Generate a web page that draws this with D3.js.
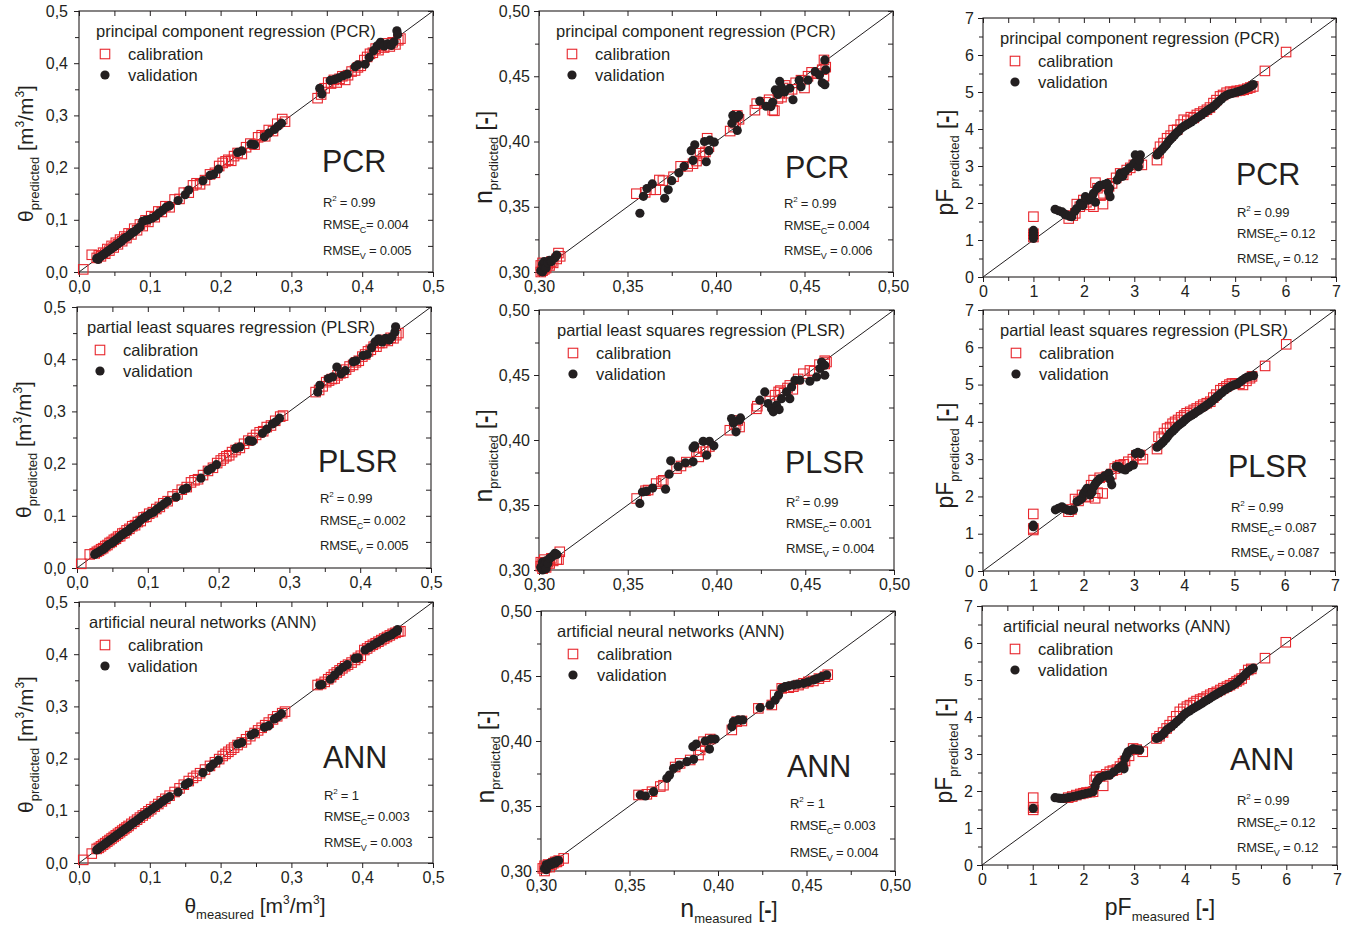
<!DOCTYPE html>
<html><head><meta charset="utf-8">
<script src="https://cdn.jsdelivr.net/npm/d3@7"></script>
<style>
body{margin:0;background:#fff;}
svg{display:block;font-family:"Liberation Sans",Arial,Helvetica,sans-serif;}
</style></head><body>
<svg id="chart" width="1354" height="931"></svg>
<script>
// ---------------- DATA ----------------
const models = ["PCR", "PLSR", "ANN"];
const modelTitles = ["principal component regression (PCR)", "partial least squares regression (PLSR)", "artificial neural networks (ANN)"];
const seriesNames = ["calibration", "validation"];

const thetaTicks = [0, 0.1, 0.2, 0.3, 0.4, 0.5];
const thetaTickLabels = ["0,0", "0,1", "0,2", "0,3", "0,4", "0,5"];
const thetaMinor = [0.05, 0.15, 0.25, 0.35, 0.45];
const nTicks = [0.30, 0.35, 0.40, 0.45, 0.50];
const nTickLabels = ["0,30", "0,35", "0,40", "0,45", "0,50"];
const nMinor = [0.325, 0.375, 0.425, 0.475];
const pFTicks = [0, 1, 2, 3, 4, 5, 6, 7];
const pFTickLabels = ["0", "1", "2", "3", "4", "5", "6", "7"];
const pFMinor = [0.5, 1.5, 2.5, 3.5, 4.5, 5.5, 6.5];

// stats: [R2, RMSE_C, RMSE_V] per model
const thetaStats = [["0.99", "0.004", "0.005"], ["0.99", "0.002", "0.005"], ["1", "0.003", "0.003"]];
const nStats = [["0.99", "0.004", "0.006"], ["0.99", "0.001", "0.004"], ["1", "0.003", "0.004"]];
const pFStats = [["0.99", "0.12", "0.12"], ["0.99", "0.087", "0.087"], ["0.99", "0.12", "0.12"]];

// theta: measured (shared) and predicted per model
const thetaCalX = [0.006,0.018,0.025,0.028,0.031,0.034,0.037,0.040,0.043,0.046,
  0.049,0.052,0.055,0.058,0.061,0.064,0.067,0.070,0.074,0.078,
  0.082,0.086,0.090,0.094,0.098,0.102,0.107,0.112,0.117,0.122,
  0.128,0.135,0.142,0.148,0.155,0.161,0.166,0.171,0.178,0.185,
  0.192,0.198,0.203,0.207,0.211,0.215,0.219,0.224,0.230,0.236,
  0.242,0.248,0.253,0.258,0.263,0.268,0.274,0.280,0.287,0.291,
  0.337,0.342,0.347,0.352,0.356,0.360,0.364,0.368,0.372,0.376,
  0.380,0.385,0.390,0.394,0.398,0.403,0.407,0.411,0.415,0.419,
  0.423,0.427,0.431,0.435,0.439,0.443,0.447,0.451,0.454];
const thetaCalPCR = [0.005,0.033,0.027,0.032,0.030,0.037,0.035,0.044,0.041,0.050,
  0.047,0.056,0.053,0.062,0.059,0.068,0.065,0.074,0.072,0.083,
  0.080,0.091,0.088,0.099,0.096,0.107,0.105,0.116,0.115,0.126,
  0.124,0.139,0.140,0.152,0.152,0.166,0.170,0.168,0.176,0.187,
  0.190,0.203,0.209,0.212,0.215,0.213,0.222,0.228,0.226,0.239,
  0.246,0.244,0.258,0.262,0.260,0.272,0.270,0.284,0.293,0.288,
  0.333,0.340,0.352,0.363,0.361,0.368,0.363,0.370,0.375,0.368,
  0.377,0.384,0.386,0.392,0.395,0.406,0.412,0.418,0.420,0.428,
  0.425,0.433,0.430,0.438,0.432,0.440,0.436,0.444,0.447];
const thetaCalPLSR = [0.008,0.026,0.028,0.031,0.033,0.036,0.038,0.042,0.044,0.048,
  0.050,0.054,0.056,0.060,0.061,0.066,0.067,0.072,0.075,0.080,
  0.082,0.088,0.090,0.097,0.098,0.104,0.107,0.113,0.117,0.124,
  0.128,0.137,0.141,0.150,0.155,0.164,0.168,0.170,0.178,0.186,
  0.192,0.201,0.206,0.210,0.214,0.216,0.222,0.226,0.230,0.238,
  0.244,0.249,0.255,0.260,0.262,0.270,0.273,0.282,0.290,0.292,
  0.337,0.341,0.348,0.356,0.359,0.362,0.363,0.369,0.373,0.374,
  0.380,0.386,0.389,0.394,0.397,0.405,0.409,0.415,0.418,0.424,
  0.424,0.431,0.431,0.437,0.435,0.441,0.440,0.446,0.450];
const thetaCalANN = [0.006,0.018,0.027,0.029,0.032,0.035,0.038,0.041,0.044,0.047,
  0.050,0.053,0.056,0.059,0.062,0.065,0.068,0.071,0.075,0.079,
  0.083,0.087,0.091,0.095,0.099,0.103,0.108,0.113,0.118,0.123,
  0.129,0.136,0.143,0.150,0.157,0.163,0.167,0.172,0.179,0.186,
  0.193,0.199,0.205,0.209,0.213,0.217,0.221,0.226,0.231,0.237,
  0.243,0.249,0.254,0.259,0.264,0.269,0.275,0.281,0.287,0.290,
  0.341,0.343,0.347,0.352,0.356,0.361,0.365,0.369,0.373,0.377,
  0.380,0.384,0.389,0.393,0.397,0.408,0.411,0.415,0.418,0.421,
  0.424,0.427,0.430,0.433,0.436,0.439,0.441,0.443,0.444];

const thetaValX = [0.025,0.027,0.030,0.033,0.036,0.039,0.042,0.045,0.048,0.051,
  0.054,0.057,0.060,0.063,0.066,0.069,0.072,0.075,0.078,0.082,
  0.086,0.090,0.094,0.098,0.103,0.108,0.113,0.118,0.123,0.128,
  0.140,0.150,0.155,0.175,0.185,0.190,0.197,0.224,0.230,0.243,
  0.248,0.262,0.268,0.276,0.281,0.286,0.340,0.343,0.355,0.361,
  0.367,0.373,0.379,0.390,0.394,0.404,0.410,0.416,0.421,0.426,
  0.431,0.436,0.441,0.445,0.449,0.450];
const thetaValPCR = [0.026,0.024,0.029,0.032,0.035,0.038,0.041,0.044,0.047,0.050,
  0.053,0.056,0.059,0.063,0.066,0.068,0.072,0.075,0.077,0.082,
  0.086,0.097,0.099,0.100,0.103,0.107,0.113,0.118,0.124,0.127,
  0.137,0.148,0.157,0.175,0.185,0.187,0.197,0.229,0.232,0.245,
  0.244,0.259,0.266,0.273,0.279,0.285,0.352,0.341,0.367,0.369,
  0.372,0.376,0.379,0.393,0.397,0.398,0.411,0.424,0.433,0.440,
  0.433,0.437,0.434,0.441,0.462,0.455];
const thetaValPLSR = [0.026,0.028,0.030,0.033,0.035,0.038,0.042,0.045,0.047,0.050,
  0.053,0.056,0.060,0.063,0.066,0.069,0.071,0.075,0.078,0.082,
  0.086,0.092,0.096,0.099,0.104,0.107,0.113,0.118,0.123,0.128,
  0.136,0.150,0.153,0.172,0.187,0.191,0.198,0.229,0.232,0.244,
  0.243,0.258,0.266,0.276,0.280,0.287,0.337,0.350,0.363,0.366,
  0.385,0.372,0.378,0.395,0.397,0.407,0.409,0.422,0.433,0.439,
  0.433,0.440,0.437,0.443,0.452,0.462];
const thetaValANN = [0.025,0.027,0.030,0.033,0.036,0.039,0.042,0.045,0.048,0.051,
  0.054,0.057,0.060,0.063,0.066,0.069,0.072,0.075,0.078,0.082,
  0.086,0.091,0.094,0.098,0.103,0.108,0.113,0.118,0.123,0.127,
  0.136,0.150,0.154,0.173,0.183,0.190,0.197,0.228,0.231,0.245,
  0.249,0.260,0.263,0.276,0.280,0.286,0.341,0.342,0.352,0.360,
  0.368,0.375,0.380,0.392,0.393,0.408,0.413,0.418,0.422,0.426,
  0.431,0.434,0.437,0.441,0.444,0.447];

// n: [measured, predicted] pairs
const nCalPCR = [[0.301,0.300],[0.301,0.305],[0.302,0.301],[0.302,0.307],[0.303,0.302],[0.303,0.304],[0.304,0.303],[0.305,0.306],[0.306,0.305],[0.307,0.308],[0.308,0.307],[0.310,0.310],[0.311,0.3145],[0.312,0.312],
  [0.355,0.360],[0.360,0.361],[0.363,0.363],[0.366,0.363],[0.368,0.3705],[0.370,0.370],[0.376,0.373],[0.380,0.381],[0.384,0.381],[0.387,0.383],[0.389,0.385],[0.391,0.391],[0.393,0.389],[0.394,0.392],[0.395,0.4025],[0.396,0.396],
  [0.408,0.408],[0.410,0.411],[0.411,0.414],[0.412,0.420],[0.413,0.417],[0.422,0.424],[0.423,0.429],[0.428,0.430],[0.430,0.432],[0.432,0.424],[0.433,0.4235],[0.435,0.433],[0.436,0.437],[0.437,0.434],[0.438,0.441],[0.439,0.443],
  [0.441,0.437],[0.443,0.440],[0.445,0.445],[0.448,0.447],[0.450,0.441],[0.452,0.450],[0.454,0.453],[0.457,0.452],[0.460,0.455],[0.461,0.4625],[0.461,0.450],[0.462,0.457]];
const nValPCR = [[0.301,0.301],[0.302,0.306],[0.302,0.300],[0.303,0.304],[0.303,0.308],[0.304,0.303],[0.305,0.307],[0.306,0.309],[0.307,0.308],[0.309,0.311],[0.310,0.313],
  [0.357,0.345],[0.359,0.358],[0.361,0.364],[0.364,0.3675],[0.371,0.3565],[0.373,0.363],[0.375,0.370],[0.379,0.376],[0.382,0.381],[0.386,0.393],[0.387,0.3855],[0.388,0.3975],[0.3935,0.400],[0.3945,0.3845],[0.396,0.393],[0.3965,0.401],[0.399,0.3995],
  [0.409,0.414],[0.4095,0.420],[0.4115,0.418],[0.412,0.4085],[0.413,0.420],[0.4247,0.431],[0.4283,0.427],[0.431,0.4268],[0.432,0.430],[0.4335,0.4395],[0.435,0.436],[0.436,0.446],[0.437,0.4415],[0.4387,0.438],[0.4417,0.4408],[0.4435,0.432],
  [0.447,0.447],[0.448,0.442],[0.452,0.447],[0.456,0.4535],[0.4585,0.451],[0.460,0.445],[0.4615,0.4435],[0.4615,0.4625],[0.462,0.455]];
const nCalPLSR = [[0.301,0.303],[0.301,0.306],[0.302,0.301],[0.302,0.305],[0.303,0.304],[0.303,0.308],[0.304,0.302],[0.305,0.306],[0.306,0.305],[0.307,0.309],[0.308,0.307],[0.310,0.308],[0.3117,0.314],[0.311,0.308],
  [0.355,0.355],[0.360,0.361],[0.3615,0.3615],[0.366,0.3665],[0.369,0.368],[0.370,0.369],[0.3775,0.378],[0.380,0.380],[0.383,0.383],[0.3887,0.391],[0.390,0.387],[0.3925,0.3935],[0.394,0.391],[0.396,0.395],
  [0.4075,0.4075],[0.410,0.412],[0.411,0.4115],[0.412,0.415],[0.413,0.410],[0.4225,0.424],[0.423,0.426],[0.430,0.430],[0.433,0.4345],[0.435,0.437],[0.436,0.438],[0.438,0.436],[0.440,0.440],[0.4413,0.442],[0.443,0.439],
  [0.446,0.447],[0.4489,0.451],[0.4526,0.4535],[0.455,0.453],[0.458,0.458],[0.461,0.461],[0.461,0.4585],[0.462,0.460]];
const nValPLSR = [[0.301,0.302],[0.302,0.306],[0.302,0.300],[0.303,0.304],[0.304,0.307],[0.304,0.301],[0.305,0.305],[0.306,0.309],[0.307,0.310],[0.308,0.311],[0.309,0.3128],[0.310,0.312],
  [0.3568,0.3512],[0.3583,0.360],[0.3605,0.3605],[0.364,0.363],[0.3713,0.3622],[0.3733,0.3737],[0.3742,0.384],[0.3784,0.3796],[0.3825,0.3825],[0.3868,0.3832],[0.3868,0.394],[0.3877,0.3955],[0.3925,0.399],[0.3944,0.3883],[0.396,0.399],[0.3985,0.3955],
  [0.4085,0.4165],[0.4095,0.413],[0.411,0.4063],[0.4128,0.4152],[0.4135,0.417],[0.4244,0.4306],[0.4272,0.437],[0.4291,0.428],[0.431,0.424],[0.432,0.4217],[0.4338,0.4268],[0.4353,0.4234],[0.4366,0.4318],[0.4395,0.437],[0.4413,0.4318],
  [0.4423,0.4408],[0.4442,0.4459],[0.447,0.446],[0.4526,0.4452],[0.4564,0.4485],[0.4583,0.455],[0.4592,0.460],[0.461,0.4575],[0.461,0.4498]];
const nCalANN = [[0.301,0.302],[0.302,0.304],[0.302,0.300],[0.303,0.303],[0.304,0.305],[0.305,0.303],[0.306,0.305],[0.307,0.306],[0.308,0.307],[0.309,0.307],[0.310,0.308],[0.3128,0.3097],
  [0.3551,0.3585],[0.3598,0.359],[0.3627,0.361],[0.3674,0.365],[0.3692,0.366],[0.3758,0.380],[0.3786,0.3828],[0.3843,0.3854],[0.389,0.3892],[0.3899,0.3931],[0.3928,0.3956],[0.3918,0.3995],[0.3956,0.4015],
  [0.4078,0.4085],[0.4106,0.4149],[0.4135,0.4154],[0.4228,0.4251],[0.4304,0.4277],[0.4323,0.4354],[0.436,0.4405],[0.440,0.441],[0.4426,0.4418],[0.4455,0.443],[0.4483,0.4444],[0.451,0.4455],[0.4539,0.4462],[0.457,0.448],[0.4605,0.4495],[0.462,0.451]];
const nValANN = [[0.302,0.302],[0.303,0.305],[0.303,0.301],[0.304,0.304],[0.305,0.306],[0.306,0.305],[0.307,0.307],[0.308,0.306],[0.309,0.308],[0.310,0.308],
  [0.3561,0.3585],[0.359,0.3577],[0.3636,0.361],[0.3711,0.3713],[0.3726,0.3738],[0.3749,0.379],[0.3781,0.3815],[0.3824,0.3841],[0.3862,0.3859],[0.3858,0.3956],[0.3877,0.3977],[0.3928,0.400],[0.3952,0.3938],[0.396,0.4015],[0.3984,0.4015],
  [0.4078,0.411],[0.4087,0.4149],[0.4115,0.4162],[0.414,0.4162],[0.4238,0.4256],[0.4294,0.4277],[0.4323,0.4315],[0.4342,0.4354],[0.436,0.4405],[0.4379,0.4418],[0.440,0.4425],[0.4426,0.4431],[0.445,0.4437],[0.4483,0.4444],[0.451,0.4455],[0.4539,0.447],[0.456,0.448],[0.4586,0.4495],[0.4614,0.4508]];

// pF: [measured, predicted] pairs
const pFCalPCR = [[1.0,1.63],[1.0,1.17],[1.0,1.08],[1.70,1.58],[1.78,1.66],[1.83,1.72],[1.86,1.97],[1.92,1.90],[1.99,2.08],[2.05,2.02],[2.12,1.95],[2.19,1.90],[2.23,2.55],[2.27,2.40],[2.33,2.20],[2.38,1.97],[2.39,2.26],[2.50,2.45],[2.56,2.53],[2.64,2.68],[2.72,2.80],[2.78,2.76],[2.85,2.89],[2.92,2.95],[2.99,3.03],[3.08,3.08],[3.15,3.03],
  [3.45,3.16],[3.48,3.35],[3.51,3.52],[3.58,3.62],[3.65,3.75],[3.72,3.82],[3.78,3.97],[3.85,3.98],[3.92,4.12],[3.98,4.25],[4.05,4.22],[4.12,4.32],[4.18,4.30],[4.24,4.38],[4.30,4.42],[4.37,4.47],[4.44,4.52],[4.50,4.58],[4.57,4.70],[4.63,4.78],[4.70,4.88],[4.76,4.92],[4.83,4.98],[4.90,5.01],[4.97,5.00],[5.03,5.03],[5.10,5.04],[5.17,5.06],[5.24,5.09],[5.30,5.12],[5.36,5.15],[5.59,5.57],[6.01,6.08]];
const pFValPCR = [[1.0,1.26],[1.0,1.20],[1.0,1.13],[1.0,1.04],[1.43,1.83],[1.50,1.79],[1.57,1.76],[1.62,1.70],[1.66,1.67],[1.72,1.65],[1.76,1.63],[1.82,1.78],[1.86,1.85],[1.93,1.99],[1.98,1.93],[2.03,2.17],[2.09,2.08],[2.13,2.12],[2.16,2.17],[2.19,2.26],[2.23,2.02],[2.26,2.39],[2.29,2.44],[2.32,2.48],[2.40,2.50],[2.46,2.53],[2.49,2.30],[2.52,2.17],[2.51,2.40],[2.66,2.62],[2.70,2.70],[2.72,2.80],[2.77,2.72],[2.82,2.85],[2.90,2.95],[2.99,3.07],[3.02,3.30],[3.12,3.30],[3.08,2.98],[3.10,3.15],
  [3.45,3.30],[3.48,3.35],[3.52,3.40],[3.56,3.46],[3.60,3.52],[3.64,3.58],[3.68,3.66],[3.72,3.72],[3.76,3.78],[3.80,3.84],[3.84,3.90],[3.88,3.94],[3.93,4.02],[3.98,4.07],[4.03,4.11],[4.08,4.15],[4.13,4.19],[4.18,4.24],[4.23,4.29],[4.28,4.33],[4.33,4.38],[4.38,4.43],[4.43,4.48],[4.48,4.53],[4.53,4.57],[4.58,4.62],[4.63,4.68],[4.68,4.75],[4.73,4.81],[4.78,4.87],[4.83,4.91],[4.88,4.94],[4.93,4.96],[4.98,4.98],[5.03,5.00],[5.08,5.02],[5.13,5.04],[5.18,5.07],[5.23,5.10],[5.28,5.13],[5.33,5.17],[5.36,5.20]];
const pFCalPLSR = [[1.0,1.53],[1.0,1.14],[1.0,1.10],[1.70,1.59],[1.76,1.65],[1.83,1.93],[1.90,1.88],[1.97,2.04],[2.03,1.98],[2.10,2.00],[2.15,2.30],[2.20,2.44],[2.23,1.95],[2.28,2.10],[2.32,2.50],[2.38,2.08],[2.46,2.53],[2.55,2.60],[2.62,2.75],[2.68,2.80],[2.73,2.84],[2.80,2.86],[2.89,2.93],[2.98,3.00],[3.05,3.10],[3.13,3.11],[3.18,3.00],
  [3.46,3.27],[3.49,3.60],[3.55,3.55],[3.60,3.70],[3.66,3.82],[3.72,3.86],[3.77,3.95],[3.82,4.00],[3.88,4.05],[3.94,4.12],[4.00,4.17],[4.05,4.23],[4.12,4.27],[4.19,4.32],[4.25,4.36],[4.32,4.41],[4.38,4.46],[4.45,4.50],[4.52,4.54],[4.58,4.65],[4.64,4.73],[4.72,4.85],[4.78,4.90],[4.84,4.95],[4.90,5.00],[4.95,5.03],[5.02,5.03],[5.10,5.02],[5.17,4.99],[5.24,5.10],[5.31,5.17],[5.35,5.22],[5.61,5.50],[6.03,6.08]];
const pFValPLSR = [[1.0,1.19],[1.0,1.23],[1.44,1.64],[1.50,1.68],[1.57,1.72],[1.62,1.67],[1.67,1.64],[1.74,1.62],[1.80,1.64],[1.87,1.86],[1.92,1.90],[1.97,1.95],[2.00,2.08],[2.04,2.15],[2.07,2.22],[2.13,2.04],[2.17,2.12],[2.20,2.26],[2.23,2.33],[2.26,2.39],[2.30,2.44],[2.33,2.48],[2.42,2.55],[2.50,2.62],[2.53,2.45],[2.56,2.31],[2.65,2.80],[2.70,2.80],[2.75,2.74],[2.83,2.71],[2.90,2.78],[2.99,2.84],[3.03,3.15],[3.08,3.18],[3.13,3.15],
  [3.46,3.32],[3.50,3.36],[3.55,3.42],[3.59,3.47],[3.64,3.55],[3.68,3.62],[3.72,3.69],[3.77,3.75],[3.81,3.80],[3.85,3.86],[3.89,3.91],[3.93,3.95],[3.97,3.99],[4.01,4.04],[4.05,4.09],[4.10,4.14],[4.15,4.18],[4.20,4.22],[4.25,4.27],[4.30,4.31],[4.35,4.36],[4.40,4.40],[4.45,4.45],[4.50,4.50],[4.55,4.55],[4.60,4.61],[4.65,4.67],[4.70,4.73],[4.75,4.78],[4.81,4.85],[4.87,4.90],[4.93,4.95],[4.99,4.99],[5.05,5.01],[5.10,5.06],[5.15,5.11],[5.21,5.17],[5.26,5.20],[5.31,5.22],[5.38,5.24]];
const pFCalANN = [[1.01,1.82],[1.01,1.49],[1.01,1.55],[1.70,1.82],[1.78,1.85],[1.86,1.89],[1.94,1.92],[2.00,1.94],[2.06,1.96],[2.13,1.97],[2.19,1.98],[2.22,2.30],[2.25,2.38],[2.32,2.40],[2.39,2.14],[2.45,2.45],[2.52,2.52],[2.58,2.55],[2.66,2.58],[2.72,2.66],[2.78,2.75],[2.82,2.81],[2.90,2.95],[2.98,3.15],[3.05,3.12],[3.17,3.06],
  [3.44,3.42],[3.50,3.48],[3.57,3.58],[3.64,3.69],[3.70,3.78],[3.76,3.88],[3.83,4.02],[3.90,4.14],[3.97,4.22],[4.04,4.28],[4.10,4.32],[4.17,4.38],[4.23,4.43],[4.30,4.47],[4.36,4.50],[4.43,4.55],[4.50,4.60],[4.56,4.64],[4.63,4.68],[4.70,4.73],[4.76,4.78],[4.83,4.82],[4.89,4.86],[4.96,4.91],[5.02,4.96],[5.07,5.00],[5.12,5.04],[5.18,5.15],[5.25,5.27],[5.31,5.30],[5.58,5.59],[5.99,6.02]];
const pFValANN = [[1.01,1.53],[1.44,1.82],[1.50,1.81],[1.55,1.80],[1.60,1.80],[1.66,1.81],[1.72,1.83],[1.80,1.85],[1.87,1.87],[1.93,1.89],[1.99,1.91],[2.05,1.93],[2.12,1.95],[2.19,1.98],[2.23,2.12],[2.26,2.25],[2.29,2.30],[2.32,2.36],[2.40,2.40],[2.48,2.43],[2.52,2.43],[2.60,2.52],[2.69,2.61],[2.74,2.66],[2.78,2.70],[2.80,2.60],[2.82,2.88],[2.85,2.97],[2.88,3.06],[2.93,3.10],[2.98,3.14],[3.04,3.12],[3.11,3.11],
  [3.44,3.42],[3.49,3.45],[3.54,3.50],[3.59,3.57],[3.64,3.65],[3.69,3.70],[3.74,3.75],[3.79,3.81],[3.84,3.87],[3.89,3.93],[3.94,4.00],[3.99,4.07],[4.04,4.12],[4.09,4.16],[4.14,4.21],[4.19,4.25],[4.24,4.29],[4.29,4.33],[4.34,4.37],[4.39,4.42],[4.44,4.46],[4.49,4.50],[4.54,4.55],[4.59,4.59],[4.64,4.63],[4.69,4.67],[4.74,4.71],[4.79,4.75],[4.84,4.78],[4.89,4.82],[4.94,4.86],[4.99,4.90],[5.04,4.95],[5.09,5.02],[5.15,5.09],[5.20,5.16],[5.25,5.23],[5.30,5.28],[5.35,5.32]];

// ---------------- LAYOUT / STYLE ----------------
const INK = "#231f20", RED = "#e8262c";
const SQ = 9.5, CR = 4.6;
const boxes = [
  [[79,11,433,272],[539,11,893,272],[983,18,1336,277]],
  [[77,307,431,568],[539,310,894,570],[983,310,1335,571]],
  [[79,602,433,863],[541,611,895,871],[982,606,1337,865]]
];
const legendOff = [
  [[17,26,49],[17,33,56],[17,32,55]],
  [[10,23,46],[18,34,57],[17,33,56]],
  [[10,26,49],[16,32,56],[21,33,56]]
];
const tagOff = [
  [[243,161,244,196,218,244],[246,167,245,197,219,244],[253,167,254,199,220,245]],
  [[241,165,243,196,218,243],[246,163,247,197,218,243],[245,167,248,202,222,247]],
  [[244,166,245,198,219,245],[246,166,249,197,219,246],[248,164,255,199,221,246]]
];

const zipXY = (xs, ys) => xs.map((v, i) => [v, ys[i]]);
const variables = [
  { domain:[0,0.5], ticks:thetaTicks, labels:thetaTickLabels, minor:thetaMinor, stats:thetaStats, lblGap:9,
    cal:[zipXY(thetaCalX,thetaCalPCR), zipXY(thetaCalX,thetaCalPLSR), zipXY(thetaCalX,thetaCalANN)],
    val:[zipXY(thetaValX,thetaValPCR), zipXY(thetaValX,thetaValPLSR), zipXY(thetaValX,thetaValANN)],
    sym:"θ", symSize:21, unit:"m3", yBase:-46, yShift:12, xCenter:255, xBase:913 },
  { domain:[0.30,0.50], ticks:nTicks, labels:nTickLabels, minor:nMinor, stats:nStats, lblGap:7,
    cal:[nCalPCR, nCalPLSR, nCalANN], val:[nValPCR, nValPLSR, nValANN],
    sym:"n", symSize:25, unit:"-", yBase:-47, yShift:16, xCenter:729, xBase:917 },
  { domain:[0,7], ticks:pFTicks, labels:pFTickLabels, minor:pFMinor, stats:pFStats, lblGap:7,
    cal:[pFCalPCR, pFCalPLSR, pFCalANN], val:[pFValPCR, pFValPLSR, pFValANN],
    sym:"pF", symSize:23, unit:"-", yBase:-30, yShift:15, xCenter:1160, xBase:915 }
];

const svg = d3.select("#chart");

function addUnit(t, v) {
  if (v.unit === "m3") {
    t.append("tspan").text(" [m").attr("dy", -6).style("font-size", "21px");
    t.append("tspan").text("3").attr("dy", -9).style("font-size", "12px");
    t.append("tspan").text("/m").attr("dy", 9).style("font-size", "21px");
    t.append("tspan").text("3").attr("dy", -9).style("font-size", "12px");
    t.append("tspan").text("]").attr("dy", 9).style("font-size", "21px");
  } else {
    t.append("tspan").text(" [").attr("dy", -6).style("font-size", "22px");
    t.append("tspan").text("-").style("font-size", "22px").style("font-weight", "bold");
    t.append("tspan").text("]").style("font-size", "22px");
  }
}

function styleAxis(sel) {
  sel.select(".domain").remove();
  sel.selectAll("line").attr("stroke", INK).attr("stroke-width", 1);
  sel.selectAll("text").attr("fill", INK).style("font-size", "16px").style("font-family", "'Liberation Sans', Arial, sans-serif");
}

models.forEach((m, r) => {
  variables.forEach((v, c) => {
    const [L, T, R, B] = boxes[r][c];
    const x = d3.scaleLinear().domain(v.domain).range([L, R]);
    const y = d3.scaleLinear().domain(v.domain).range([B, T]);
    const g = svg.append("g");
    const fmt = d => v.labels[v.ticks.indexOf(d)];

    g.append("g").attr("transform", `translate(0,${B})`)
      .call(d3.axisBottom(x).tickValues(v.ticks).tickFormat(fmt).tickSizeInner(5).tickSizeOuter(0).tickPadding(4)).call(styleAxis);
    g.append("g").attr("transform", `translate(0,${B})`)
      .call(d3.axisBottom(x).tickValues(v.minor).tickFormat("").tickSizeInner(4).tickSizeOuter(0)).call(styleAxis);
    g.append("g").attr("transform", `translate(${L},0)`)
      .call(d3.axisLeft(y).tickValues(v.ticks).tickFormat(fmt).tickSizeInner(5).tickSizeOuter(0).tickPadding(v.lblGap - 3)).call(styleAxis);
    g.append("g").attr("transform", `translate(${L},0)`)
      .call(d3.axisLeft(y).tickValues(v.minor).tickFormat("").tickSizeInner(4).tickSizeOuter(0)).call(styleAxis);
    g.append("g").attr("transform", `translate(0,${T})`)
      .call(d3.axisTop(x).tickValues(v.ticks.concat(v.minor)).tickFormat("").tickSizeInner(-5).tickSizeOuter(0)).call(styleAxis);
    g.append("g").attr("transform", `translate(${R},0)`)
      .call(d3.axisRight(y).tickValues(v.ticks.concat(v.minor)).tickFormat("").tickSizeInner(-5).tickSizeOuter(0)).call(styleAxis);

    g.append("rect").attr("x", L).attr("y", T).attr("width", R - L).attr("height", B - T)
      .attr("fill", "none").attr("stroke", INK).attr("stroke-width", 1.1);

    g.append("line").attr("x1", x(v.domain[0])).attr("y1", y(v.domain[0]))
      .attr("x2", x(v.domain[1])).attr("y2", y(v.domain[1]))
      .attr("stroke", INK).attr("stroke-width", 1);

    g.append("g").selectAll("rect").data(v.cal[r]).join("rect")
      .attr("x", d => x(d[0]) - SQ / 2).attr("y", d => y(d[1]) - SQ / 2)
      .attr("width", SQ).attr("height", SQ)
      .attr("fill", "none").attr("stroke", RED).attr("stroke-width", 1.1);
    g.append("g").selectAll("circle").data(v.val[r]).join("circle")
      .attr("cx", d => x(d[0])).attr("cy", d => y(d[1])).attr("r", CR)
      .attr("fill", INK);

    const [tdx, sdx, xdx] = legendOff[r][c];
    g.append("text").attr("x", L + tdx).attr("y", T + 26).attr("fill", INK)
      .style("font-size", "16.5px").text(modelTitles[r]);
    g.append("rect").attr("x", L + sdx - SQ / 2).attr("y", T + 43 - SQ / 2).attr("width", SQ).attr("height", SQ)
      .attr("fill", "none").attr("stroke", RED).attr("stroke-width", 1.1);
    g.append("circle").attr("cx", L + sdx).attr("cy", T + 64).attr("r", CR).attr("fill", INK);
    g.append("text").attr("x", L + xdx).attr("y", T + 49).attr("fill", INK).style("font-size", "16.5px").text(seriesNames[0]);
    g.append("text").attr("x", L + xdx).attr("y", T + 70).attr("fill", INK).style("font-size", "16.5px").text(seriesNames[1]);

    const [gdx, gdy, sx, s1, s2, s3] = tagOff[r][c];
    g.append("text").attr("x", L + gdx).attr("y", T + gdy).attr("fill", INK).style("font-size", "30.5px").text(m);
    const st = v.stats[r];
    const t1 = g.append("text").attr("x", L + sx).attr("y", T + s1).attr("fill", INK).style("font-size", "13px").style("letter-spacing", "-0.2px");
    t1.append("tspan").text("R");
    t1.append("tspan").text("2").attr("dy", -6).style("font-size", "8px");
    t1.append("tspan").text(" = " + st[0]).attr("dy", 6);
    const t2 = g.append("text").attr("x", L + sx).attr("y", T + s2).attr("fill", INK).style("font-size", "13px").style("letter-spacing", "-0.2px");
    t2.append("tspan").text("RMSE");
    t2.append("tspan").text("C").attr("dy", 4).style("font-size", "9px");
    t2.append("tspan").text("= " + st[1]).attr("dy", -4);
    const t3 = g.append("text").attr("x", L + sx).attr("y", T + s3).attr("fill", INK).style("font-size", "13px").style("letter-spacing", "-0.2px");
    t3.append("tspan").text("RMSE");
    t3.append("tspan").text("V").attr("dy", 4).style("font-size", "9px");
    t3.append("tspan").text(" = " + st[2]).attr("dy", -4);

    const yt = g.append("text").attr("text-anchor", "middle").attr("fill", INK)
      .attr("transform", `translate(${L + v.yBase},${(T + B) / 2 + v.yShift}) rotate(-90)`);
    yt.append("tspan").text(v.sym).style("font-size", v.symSize + "px");
    yt.append("tspan").text("predicted").attr("dy", 6).style("font-size", "13px");
    addUnit(yt, v);

    if (r === 2) {
      const xt = g.append("text").attr("text-anchor", "middle").attr("fill", INK)
        .attr("x", v.xCenter).attr("y", v.xBase);
      xt.append("tspan").text(v.sym).style("font-size", v.symSize + "px");
      xt.append("tspan").text("measured").attr("dy", 6).style("font-size", "13px");
      addUnit(xt, v);
    }
  });
});
</script>
</body></html>
